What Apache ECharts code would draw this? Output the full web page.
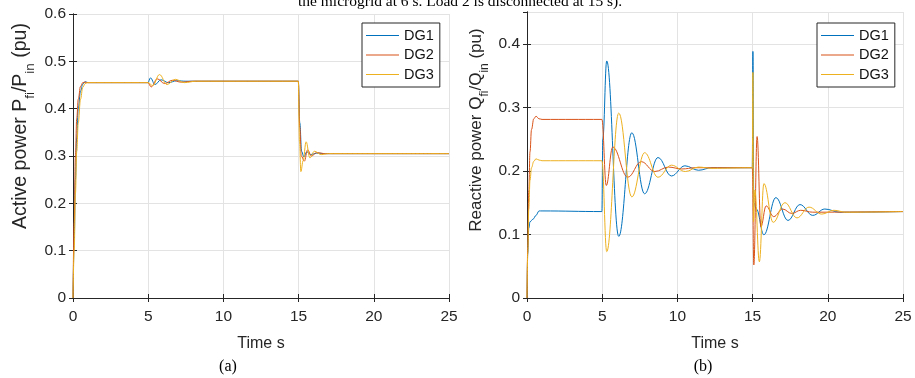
<!DOCTYPE html>
<html>
<head>
<meta charset="utf-8">
<script src="https://cdn.jsdelivr.net/npm/echarts@6/dist/echarts.min.js"></script>
<style>
html,body{margin:0;padding:0;background:#fff}
#chart{width:915px;height:378px}
</style>
</head>
<body>
<div id="chart"></div>
<script>
// series names / ticks
const names = ['DG1', 'DG2', 'DG3'];
const colors = ['#0072BD', '#D95319', '#EDB120'];
const timeTicks = [0, 25, 5];   // min, max, step

// (a) active power P_fi/P_in
const pTimeDG1 = [0, 0.08, 0.16, 0.25, 0.35, 0.5, 0.65, 0.8, 1.0, 4.98, 5.15, 5.45, 5.85, 6.35, 6.9, 7.5, 14.98, 15.08, 15.2, 15.35, 15.55, 15.8, 16.2, 16.8, 25];
const pDG1 = [0, 0.12, 0.25, 0.34, 0.4, 0.437, 0.452, 0.457, 0.455, 0.455, 0.465, 0.451, 0.461, 0.455, 0.459, 0.458, 0.458, 0.37, 0.31, 0.298, 0.309, 0.303, 0.306, 0.305, 0.305];
const pTimeDG2 = [0, 0.08, 0.16, 0.25, 0.35, 0.5, 0.65, 0.8, 1.0, 4.98, 5.2, 5.6, 6.1, 6.6, 7.2, 8.0, 14.98, 15.08, 15.18, 15.38, 15.6, 15.85, 16.2, 16.8, 25];
const pDG2 = [0, 0.16, 0.3, 0.38, 0.42, 0.447, 0.455, 0.456, 0.455, 0.455, 0.446, 0.463, 0.453, 0.46, 0.456, 0.458, 0.458, 0.36, 0.3, 0.289, 0.313, 0.3, 0.307, 0.305, 0.305];
const pTimeDG3 = [0, 0.08, 0.16, 0.25, 0.35, 0.5, 0.65, 0.8, 1.0, 4.98, 5.3, 5.75, 6.25, 6.8, 7.4, 8.2, 14.98, 15.06, 15.15, 15.3, 15.5, 15.75, 16.05, 16.5, 17.0, 25];
const pDG3 = [0, 0.1, 0.22, 0.31, 0.37, 0.42, 0.445, 0.453, 0.455, 0.455, 0.449, 0.472, 0.451, 0.462, 0.455, 0.458, 0.458, 0.33, 0.267, 0.29, 0.33, 0.296, 0.31, 0.303, 0.305, 0.305];

// (b) reactive power Q_fi/Q_in
const qTimeDG1 = [0, 0.05, 0.12, 0.2, 0.4, 0.6, 0.8, 1.0, 4.98, 5.04, 5.3, 6.1, 6.97, 7.82, 8.71, 9.6, 10.5, 11.4, 12.3, 14.98, 15.02, 15.08, 15.25, 15.75, 16.55, 17.35, 18.15, 19.0, 19.8, 20.8, 25];
const qDG1 = [0, 0.07, 0.11, 0.12, 0.124, 0.13, 0.137, 0.137, 0.136, 0.25, 0.373, 0.097, 0.26, 0.164, 0.221, 0.192, 0.208, 0.201, 0.205, 0.205, 0.388, 0.15, 0.14, 0.0995, 0.158, 0.122, 0.147, 0.13, 0.14, 0.135, 0.136];
const qTimeDG2 = [0, 0.05, 0.12, 0.2, 0.3, 0.45, 0.6, 0.8, 1.0, 4.98, 5.27, 5.7, 6.7, 7.6, 8.5, 9.4, 10.3, 11.2, 14.98, 15.08, 15.3, 15.55, 15.9, 16.4, 17.0, 17.6, 18.2, 19.0, 25];
const qDG2 = [0, 0.08, 0.17, 0.23, 0.265, 0.282, 0.286, 0.282, 0.281, 0.281, 0.177, 0.2375, 0.19, 0.2145, 0.199, 0.206, 0.203, 0.205, 0.205, 0.052, 0.254, 0.112, 0.145, 0.128, 0.14, 0.133, 0.138, 0.135, 0.136];
const qTimeDG3 = [0, 0.05, 0.12, 0.2, 0.3, 0.45, 0.6, 0.8, 1.0, 4.98, 5.3, 6.1, 6.97, 7.82, 8.71, 9.6, 10.53, 11.4, 12.3, 14.98, 15.02, 15.06, 15.15, 15.45, 15.75, 16.37, 17.15, 17.95, 18.75, 19.6, 20.4, 21.2, 25];
const qDG3 = [0, 0.07, 0.14, 0.185, 0.205, 0.215, 0.219, 0.217, 0.216, 0.216, 0.073, 0.291, 0.159, 0.2286, 0.19, 0.209, 0.199, 0.206, 0.204, 0.205, 0.355, 0.12, 0.17, 0.057, 0.18, 0.119, 0.15, 0.126, 0.143, 0.132, 0.138, 0.135, 0.136];

const pPairs = [[pTimeDG1, pDG1], [pTimeDG2, pDG2], [pTimeDG3, pDG3]];
const qPairs = [[qTimeDG1, qDG1], [qTimeDG2, qDG2], [qTimeDG3, qDG3]];

const zip = (t, v) => t.map((x, i) => [x, v[i]]);

const axisColor = '#262626';
const gridColor = '#e3e3e3';
const sans = 'Liberation Sans, Arial, sans-serif';
const serif = 'Liberation Serif, Times New Roman, serif';

const makeX = (grid, pos) => ({
    type: 'value', gridIndex: grid, position: pos,
    min: timeTicks[0], max: timeTicks[1], interval: timeTicks[2],
    axisLine: { show: true, lineStyle: { color: axisColor, width: 1 } },
    axisTick: { show: true, inside: true, length: 4, lineStyle: { color: axisColor } },
    axisLabel: { show: pos === 'bottom', color: axisColor, fontSize: 15.5, fontFamily: sans, margin: 11 },
    splitLine: { show: pos === 'bottom', lineStyle: { color: gridColor, width: 1 } },
    name: pos === 'bottom' ? 'Time s' : '',
    nameLocation: 'middle', nameGap: 38,
    nameTextStyle: { color: axisColor, fontSize: 16, fontFamily: sans }
});

const makeY = (grid, pos, max) => ({
    type: 'value', gridIndex: grid, position: pos,
    min: 0, max: max, interval: 0.1,
    axisLine: { show: true, lineStyle: { color: axisColor, width: 1 } },
    axisTick: { show: true, inside: true, length: 4, lineStyle: { color: axisColor } },
    axisLabel: { show: pos === 'left', color: axisColor, fontSize: 15.5, fontFamily: sans, margin: 7, showMaxLabel: max === 0.6 },
    splitLine: { show: pos === 'left', lineStyle: { color: gridColor, width: 1 } }
});

const makeLegend = (left) => ({
    data: names.map(n => ({ name: n, icon: 'rect' })),
    orient: 'vertical', left: left, top: 23,
    backgroundColor: '#fff', borderColor: axisColor, borderWidth: 1, borderRadius: 0,
    padding: [4, 6, 4, 4], itemGap: 2.5, itemWidth: 33, itemHeight: 1.2,
    textStyle: { color: '#111', fontSize: 14.5, fontFamily: sans, lineHeight: 17 }
});

const series = [];
pPairs.forEach((p, i) => series.push({
    name: names[i], type: 'line', xAxisIndex: 0, yAxisIndex: 0,
    data: zip(p[0], p[1]), symbol: 'none', smooth: 0.4, smoothMonotone: 'x',
    lineStyle: { color: colors[i], width: 1 }, itemStyle: { color: colors[i] }
}));
qPairs.forEach((p, i) => series.push({
    name: names[i], type: 'line', xAxisIndex: 1, yAxisIndex: 1,
    data: zip(p[0], p[1]), symbol: 'none', smooth: 0.4, smoothMonotone: 'x',
    lineStyle: { color: colors[i], width: 1 }, itemStyle: { color: colors[i] }
}));

const chart = echarts.init(document.getElementById('chart'));
chart.setOption({
    animation: false,
    backgroundColor: '#fff',
    grid: [
        { left: 73, right: 466, top: 14, bottom: 80 },
        { left: 527, right: 12, top: 12, bottom: 80 }
    ],
    xAxis: [makeX(0, 'bottom'), makeX(1, 'bottom'), makeX(0, 'top'), makeX(1, 'top')],
    yAxis: [makeY(0, 'left', 0.6), makeY(1, 'left', 0.45), makeY(0, 'right', 0.6), makeY(1, 'right', 0.45)],
    legend: [makeLegend(362), makeLegend(817)],
    graphic: [
        { type: 'text', left: 298, top: -6, style: { text: 'the microgrid at 6 s. Load 2 is disconnected at 15 s).', fill: '#000', font: '15.5px ' + serif } },
        { type: 'text', x: 228, y: 367, style: { text: '(a)', fill: '#000', font: '16px ' + serif, align: 'center', verticalAlign: 'middle' } },
        { type: 'text', x: 703, y: 367, style: { text: '(b)', fill: '#000', font: '16px ' + serif, align: 'center', verticalAlign: 'middle' } },
        {
            type: 'text', x: 21, y: 126, rotation: Math.PI / 2,
            style: {
                text: '{a|Active power P}{s|fi}{a|/P}{s|in}{a| (pu)}',
                align: 'center', verticalAlign: 'middle', fill: axisColor,
                rich: {
                    a: { fontSize: 19.5, fontFamily: sans, lineHeight: 22, fill: axisColor },
                    s: { fontSize: 13.5, fontFamily: sans, lineHeight: 33, verticalAlign: 'bottom', fill: axisColor }
                }
            }
        },
        {
            type: 'text', x: 476, y: 130, rotation: Math.PI / 2,
            style: {
                text: '{a|Reactive power Q}{s|fi}{a|/Q}{s|in}{a| (pu)}',
                align: 'center', verticalAlign: 'middle', fill: axisColor,
                rich: {
                    a: { fontSize: 17, fontFamily: sans, lineHeight: 20, fill: axisColor },
                    s: { fontSize: 12, fontFamily: sans, lineHeight: 30, verticalAlign: 'bottom', fill: axisColor }
                }
            }
        }
    ],
    series: series
});
</script>
</body>
</html>
